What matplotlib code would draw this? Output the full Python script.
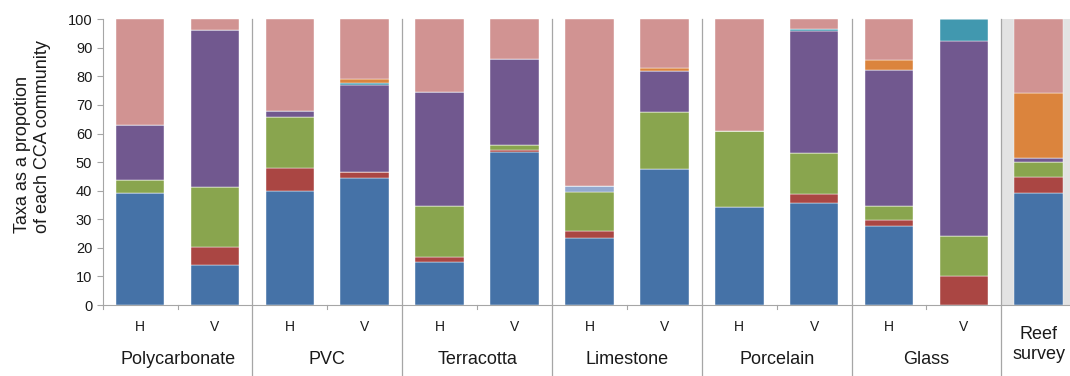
import matplotlib
matplotlib.use('Agg')
import matplotlib.pyplot as plt
import numpy as np

plt.rcParams['font.family'] = ['Liberation Sans', 'DejaVu Sans']

# Data (percent of each CCA community), stacked bottom to top
bars = ['H', 'V', 'H', 'V', 'H', 'V', 'H', 'V', 'H', 'V', 'H', 'V', 'Reef\nsurvey']
groups = ['Polycarbonate', 'PVC', 'Terracotta', 'Limestone', 'Porcelain', 'Glass']

blue = [39.3, 14.0, 39.9, 44.5, 15.2, 53.7, 23.6, 47.6, 34.2, 35.6, 27.8, 0.0, 39.3]
red = [0.0, 6.3, 8.2, 2.2, 1.6, 0.6, 2.4, 0.0, 0.0, 3.3, 2.1, 10.3, 5.5]
green = [4.5, 21.0, 17.6, 0.0, 17.9, 1.7, 13.7, 20.1, 26.6, 14.2, 4.9, 13.9, 5.4]
lightblue = [0, 0, 0, 0, 0, 0, 2.0, 0, 0, 0, 0, 0, 0]
purple = [19.1, 54.9, 2.2, 30.4, 39.9, 30.2, 0.0, 14.1, 0.0, 42.8, 47.6, 68.2, 1.1]
teal = [0, 0, 0, 0.5, 0, 0, 0, 0, 0, 0.7, 0, 7.6, 0]
orange = [0, 0, 0, 1.4, 0, 0, 0, 1.3, 0, 0, 3.4, 0, 22.9]
pink = [37.1, 3.8, 32.1, 21.0, 25.4, 13.8, 58.3, 16.9, 39.2, 3.4, 14.2, 0.0, 25.8]

series = [blue, red, green, lightblue, purple, teal, orange, pink]
colors = ['#4572A7', '#AA4643', '#89A54E', '#93A9CF', '#71588F', '#4198AF', '#DB843D', '#D19392']

grey = '#A6A6A6'
txt = '#1a1a1a'

fig = plt.figure(figsize=(10.7, 3.76), dpi=100)
ax = fig.add_axes([0.096, 0.1888, 0.9098, 0.76])

x = np.arange(len(bars))
# shaded reef survey slot
ax.axvspan(11.5, 12.5, color='#E3E3E3', zorder=0, lw=0)

bottom = np.zeros(len(bars))
for vals, c in zip(series, colors):
    vals = np.array(vals, dtype=float)
    ax.bar(x, vals, 0.65, bottom=bottom, color=c, edgecolor='#ffffff', linewidth=0.3, zorder=2)
    bottom += vals

ax.set_xlim(-0.5, 12.5)
ax.set_ylim(0, 100)
ax.set_yticks(range(0, 101, 10))
ax.tick_params(axis='y', colors=grey, labelcolor=txt, labelsize=10.5, length=4, width=0.8)
ax.set_xticks([])
for s in ['top', 'right']:
    ax.spines[s].set_visible(False)
for s in ['left', 'bottom']:
    ax.spines[s].set_color(grey)
    ax.spines[s].set_linewidth(0.8)

trans = ax.get_xaxis_transform()
# short ticks between H and V
for xt in np.arange(-0.5, 11, 2) + 1:
    ax.plot([xt, xt], [0, -0.015], color=grey, lw=0.8, transform=trans, clip_on=False)
ax.plot([-0.5, -0.5], [0, -0.015], color=grey, lw=0.8, transform=trans, clip_on=False)
# group separators
for xs in np.arange(1.5, 12, 2):
    ax.plot([xs, xs], [1.0, -0.26], color=grey, lw=0.9, transform=trans, clip_on=False)

for i, lab in enumerate(bars[:-1]):
    ax.text(i, -0.077, lab, transform=trans, ha='center', va='center', fontsize=10, color=txt)
ax.text(12, -0.137, bars[-1], transform=trans, ha='center', va='center', fontsize=13,
        color=txt, linespacing=1.25)
for k, g in enumerate(groups):
    ax.text(2 * k + 0.5, -0.19, g, transform=trans, ha='center', va='center', fontsize=13, color=txt)

ax.text(-0.072, 0.59, 'Taxa as a propotion\nof each CCA community', transform=ax.transAxes,
        rotation=90, ha='center', va='center', multialignment='left', fontsize=13, color=txt)

plt.savefig('out.png', dpi=100, facecolor='white')
plt.close()
